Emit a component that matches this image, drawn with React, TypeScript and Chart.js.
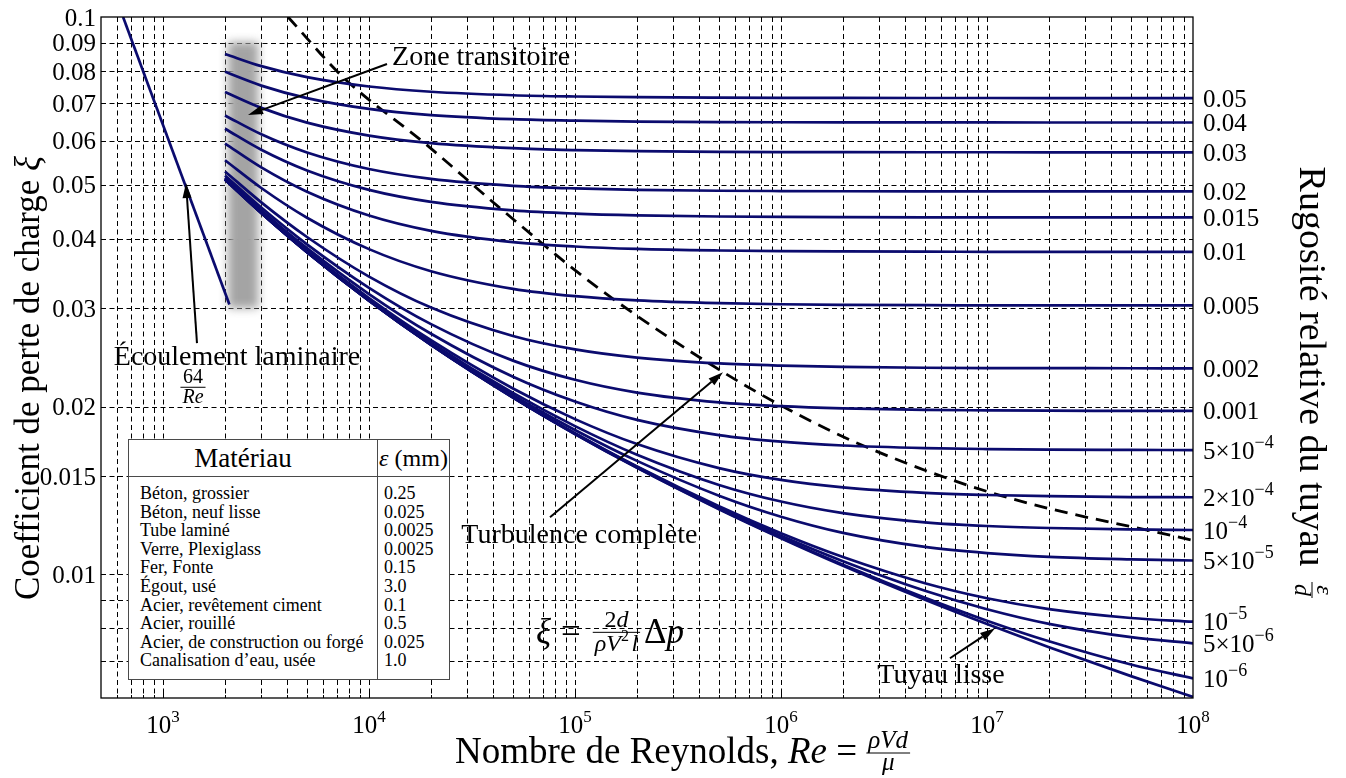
import React, { useEffect, useRef } from 'react';
import { Chart, registerables } from 'chart.js';

Chart.register(...registerables);

const W = 1346;
const H = 778;
const SERIF = '"Liberation Serif", "Times New Roman", serif';
const NAVY = '#0b0b6e';

// ---------------- data ----------------
const reynolds = [2000, 3000, 5000, 1e4, 2e4, 5e4, 1e5, 2e5, 5e5, 1e6, 2e6, 5e6, 1e7, 2e7, 5e7, 1e8];

const xi_0_05 = [0.08584, 0.08162, 0.07799, 0.07504, 0.07344, 0.07238, 0.072, 0.07179, 0.07166, 0.0716, 0.07158, 0.07156, 0.07156, 0.07155, 0.07155, 0.07155];
const xi_0_04 = [0.07972, 0.07532, 0.07152, 0.0684, 0.06669, 0.06556, 0.06515, 0.06493, 0.06479, 0.06474, 0.06471, 0.06469, 0.06468, 0.06467, 0.06467, 0.06467];
const xi_0_03 = [0.07334, 0.0687, 0.06464, 0.06127, 0.0594, 0.05816, 0.0577, 0.05746, 0.0573, 0.05724, 0.05721, 0.05719, 0.05719, 0.05718, 0.05718, 0.05718];
const xi_0_02 = [0.06658, 0.06159, 0.05714, 0.05336, 0.05123, 0.04979, 0.04926, 0.04897, 0.04878, 0.04872, 0.04868, 0.04866, 0.04865, 0.04865, 0.04864, 0.04864];
const xi_0_015 = [0.06302, 0.05778, 0.05304, 0.04895, 0.04659, 0.04499, 0.04439, 0.04407, 0.04386, 0.04378, 0.04374, 0.04371, 0.0437, 0.0437, 0.04369, 0.04369];
const xi_0_01 = [0.05928, 0.05372, 0.04859, 0.04404, 0.04134, 0.03946, 0.03875, 0.03836, 0.03811, 0.03801, 0.03796, 0.03792, 0.03791, 0.0379, 0.0379, 0.0379];
const xi_0_005 = [0.05533, 0.04934, 0.04364, 0.03833, 0.03499, 0.03253, 0.03156, 0.03102, 0.03066, 0.03052, 0.03045, 0.0304, 0.03039, 0.03038, 0.03037, 0.03037];
const xi_0_002 = [0.05283, 0.0465, 0.0403, 0.03422, 0.03011, 0.02677, 0.02533, 0.02449, 0.0239, 0.02368, 0.02356, 0.02348, 0.02345, 0.02344, 0.02343, 0.02342];
const xi_0_001 = [0.05197, 0.04551, 0.0391, 0.03267, 0.02812, 0.02418, 0.02234, 0.02119, 0.02035, 0.02003, 0.01985, 0.01973, 0.01969, 0.01966, 0.01965, 0.01964];
const xi_5e_4 = [0.05153, 0.045, 0.03848, 0.03184, 0.02702, 0.02262, 0.02042, 0.01893, 0.01778, 0.0173, 0.01703, 0.01685, 0.01678, 0.01674, 0.01672, 0.01671];
const xi_2e_4 = [0.05127, 0.0447, 0.0381, 0.03132, 0.02631, 0.02155, 0.01899, 0.01713, 0.01551, 0.01477, 0.01432, 0.014, 0.01388, 0.01381, 0.01376, 0.01375];
const xi_1e_4 = [0.05118, 0.04459, 0.03797, 0.03115, 0.02606, 0.02116, 0.01845, 0.01639, 0.01447, 0.01351, 0.01288, 0.0124, 0.01221, 0.01211, 0.01204, 0.01201];
const xi_5e_5 = [0.05114, 0.04454, 0.03791, 0.03106, 0.02594, 0.02096, 0.01816, 0.01598, 0.01384, 0.01269, 0.01187, 0.0112, 0.01092, 0.01075, 0.01064, 0.01059];
const xi_1e_5 = [0.0511, 0.0445, 0.03786, 0.03099, 0.02584, 0.0208, 0.01792, 0.01562, 0.01325, 0.01185, 0.01074, 0.009638, 0.009059, 0.008662, 0.008351, 0.008224];
const xi_5e_6 = [0.05109, 0.04449, 0.03785, 0.03098, 0.02583, 0.02078, 0.01789, 0.01558, 0.01317, 0.01173, 0.01056, 0.009344, 0.008657, 0.00815, 0.007713, 0.007519];
const xi_1e_6 = [0.05109, 0.04449, 0.03784, 0.03097, 0.02581, 0.02076, 0.01786, 0.01554, 0.01311, 0.01163, 0.0104, 0.009074, 0.008258, 0.007583, 0.006889, 0.006506];
const xi_smooth = [0.05109, 0.04449, 0.03784, 0.03097, 0.02581, 0.02076, 0.01786, 0.01553, 0.01309, 0.01161, 0.01036, 0.009001, 0.008142, 0.007401, 0.006567, 0.006026];

const roughnessSeries = [xi_0_05, xi_0_04, xi_0_03, xi_0_02, xi_0_015, xi_0_01, xi_0_005, xi_0_002, xi_0_001, xi_5e_4, xi_2e_4, xi_1e_4, xi_5e_5, xi_1e_5, xi_5e_6, xi_1e_6];
const roughnessLabels = ['0.05', '0.04', '0.03', '0.02', '0.015', '0.01', '0.005', '0.002', '0.001', '5×10^−4', '2×10^−4', '10^−4', '5×10^−5', '10^−5', '5×10^−6', '10^−6'];

const laminarRe = [640, 2100];
const laminarXi = [0.1, 0.03048];

const completeTurbRe = [4045, 7477, 19120, 43230, 127900, 505700, 1105000, 2615000, 11560000, 1e8];
const completeTurbXi = [0.1, 0.07801, 0.0589, 0.04541, 0.03276, 0.02324, 0.0197, 0.0169, 0.01386, 0.01151];

const transitionBandRe = [2000, 3000];
const transitionBandXi = [0.0298, 0.0909];

const xDecades = [100, 1e3, 1e4, 1e5, 1e6, 1e7, 1e8];
const xGridMantissas = [1, 2, 3, 4, 5, 6, 7, 8, 9];
const xMajorExponents = [3, 4, 5, 6, 7, 8];
const yGridValues = [0.007, 0.008, 0.009, 0.01, 0.015, 0.02, 0.03, 0.04, 0.05, 0.06, 0.07, 0.08, 0.09];
const yTickLabels = ['0.01', '0.015', '0.02', '0.03', '0.04', '0.05', '0.06', '0.07', '0.08', '0.09', '0.1'];

const tableMaterials = ['Béton, grossier', 'Béton, neuf lisse', 'Tube laminé', 'Verre, Plexiglass', 'Fer, Fonte', 'Égout, usé', 'Acier, revêtement ciment', 'Acier, rouillé', 'Acier, de construction ou forgé', 'Canalisation d’eau, usée'];
const tableRoughnessMm = ['0.25', '0.025', '0.0025', '0.0025', '0.15', '3.0', '0.1', '0.5', '0.025', '1.0'];

const X_MIN = 500;
const X_MAX = 1e8;
const Y_MIN = 0.006;
const Y_MAX = 0.1;

// annotation anchors (data coordinates)
const annZoneText = { re: 12935, xi: 0.08442 };
const annZoneArrow = [[12225, 0.08234], [2586, 0.0667]];
const annLamText = { re: 2287, xi: 0.02453 };
const annLamFrac = { re: 1398, xi: 0.02166 };
const annLamArrow = [[1462, 0.02599], [1293, 0.05035]];
const annTurbText = { re: 105000, xi: 0.01175 };
const annTurbArrow = [[75620, 0.01266], [523000, 0.02305]];
const annSmoothText = { re: 5.98e6, xi: 0.00659 };
const annSmoothArrow = [[6.61e6, 0.00707], [1.094e7, 0.008]];
const annFormula = { re: 64680, xi: 0.00787 };

// ---------------- drawing helpers ----------------
type Run = { t: string; size: number; italic?: boolean; dy?: number };

function setFont(ctx: CanvasRenderingContext2D, size: number, italic?: boolean) {
  ctx.font = `${italic ? 'italic ' : ''}${size}px ${SERIF}`;
}

function measureRuns(ctx: CanvasRenderingContext2D, runs: Run[]) {
  let w = 0;
  for (const r of runs) {
    setFont(ctx, r.size, r.italic);
    w += ctx.measureText(r.t).width;
  }
  return w;
}

function drawRuns(ctx: CanvasRenderingContext2D, runs: Run[], x: number, y: number) {
  let cx = x;
  for (const r of runs) {
    setFont(ctx, r.size, r.italic);
    ctx.fillText(r.t, cx, y + (r.dy || 0));
    cx += ctx.measureText(r.t).width;
  }
  return cx - x;
}

function drawFraction(ctx: CanvasRenderingContext2D, num: Run[], den: Run[], x: number, barY: number, numDy: number, denDy: number) {
  const wn = measureRuns(ctx, num);
  const wd = measureRuns(ctx, den);
  const w = Math.max(wn, wd) + 4;
  drawRuns(ctx, num, x + (w - wn) / 2, barY + numDy);
  drawRuns(ctx, den, x + (w - wd) / 2, barY + denDy);
  ctx.save();
  ctx.lineWidth = 1;
  ctx.beginPath();
  ctx.moveTo(x, barY);
  ctx.lineTo(x + w, barY);
  ctx.stroke();
  ctx.restore();
  return w;
}

function sciRuns(label: string, size: number): Run[] {
  const parts = label.split('^');
  if (parts.length === 1) return [{ t: label, size }];
  return [{ t: parts[0], size }, { t: parts[1], size: Math.round(size * 0.7), dy: -Math.round(size * 0.42) }];
}

function arrow(ctx: CanvasRenderingContext2D, x0: number, y0: number, x1: number, y1: number) {
  const ang = Math.atan2(y1 - y0, x1 - x0);
  const L = 15;
  const hw = 4.5;
  const bx = x1 - L * Math.cos(ang);
  const by = y1 - L * Math.sin(ang);
  ctx.save();
  ctx.strokeStyle = '#000';
  ctx.fillStyle = '#000';
  ctx.lineWidth = 2;
  ctx.beginPath();
  ctx.moveTo(x0, y0);
  ctx.lineTo(bx, by);
  ctx.stroke();
  ctx.beginPath();
  ctx.moveTo(x1, y1);
  ctx.lineTo(bx - hw * Math.sin(ang), by + hw * Math.cos(ang));
  ctx.lineTo(bx + hw * Math.sin(ang), by - hw * Math.cos(ang));
  ctx.closePath();
  ctx.fill();
  ctx.restore();
}

const moodyPlugin = {
  id: 'moody',
  beforeDatasetsDraw(chart: any) {
    const { ctx, chartArea: a, scales } = chart;
    const xs = scales.x;
    const ys = scales.y;
    ctx.save();
    ctx.strokeStyle = '#000';
    ctx.lineWidth = 1;
    ctx.setLineDash([5, 3.5]);
    for (const d of xDecades) {
      for (const m of xGridMantissas) {
        const v = d * m;
        if (v <= X_MIN || v >= X_MAX) continue;
        const px = Math.round(xs.getPixelForValue(v)) + 0.5;
        ctx.beginPath();
        ctx.moveTo(px, a.top);
        ctx.lineTo(px, a.bottom);
        ctx.stroke();
      }
    }
    for (const v of yGridValues) {
      const py = Math.round(ys.getPixelForValue(v)) + 0.5;
      ctx.beginPath();
      ctx.moveTo(a.left, py);
      ctx.lineTo(a.right, py);
      ctx.stroke();
    }
    ctx.setLineDash([]);
    // transition zone band
    const bx0 = xs.getPixelForValue(transitionBandRe[0]);
    const bx1 = xs.getPixelForValue(transitionBandRe[1]);
    const by0 = ys.getPixelForValue(transitionBandXi[1]);
    const by1 = ys.getPixelForValue(transitionBandXi[0]);
    ctx.filter = 'blur(5px)';
    ctx.fillStyle = '#a4a4a4';
    ctx.fillRect(bx0 + 3, by0 + 2, bx1 - bx0 - 6, by1 - by0 - 4);
    ctx.filter = 'none';
    ctx.restore();
  },
  afterDatasetsDraw(chart: any) {
    const { ctx, chartArea: a, scales } = chart;
    const xs = scales.x;
    const ys = scales.y;
    const P = (re: number, xi: number) => [xs.getPixelForValue(re), ys.getPixelForValue(xi)];
    ctx.save();
    ctx.strokeStyle = '#000';
    ctx.fillStyle = '#000';
    // inward ticks
    ctx.lineWidth = 1;
    for (const d of xDecades) {
      for (const m of xGridMantissas) {
        const v = d * m;
        if (v <= X_MIN || v >= X_MAX) continue;
        const px = Math.round(xs.getPixelForValue(v)) + 0.5;
        const len = m === 1 ? 5 : 3;
        ctx.beginPath();
        ctx.moveTo(px, a.bottom);
        ctx.lineTo(px, a.bottom - len);
        ctx.stroke();
      }
    }
    for (const v of yGridValues) {
      const py = Math.round(ys.getPixelForValue(v)) + 0.5;
      ctx.beginPath();
      ctx.moveTo(a.left, py);
      ctx.lineTo(a.left + 5, py);
      ctx.stroke();
    }
    // spines
    ctx.lineWidth = 1.3;
    ctx.strokeRect(a.left, a.top, a.right - a.left, a.bottom - a.top);

    ctx.textBaseline = 'alphabetic';
    // y tick labels
    ctx.textAlign = 'right';
    setFont(ctx, 25);
    for (const lab of yTickLabels) {
      const py = ys.getPixelForValue(parseFloat(lab));
      ctx.fillText(lab, a.left - 5, py + 8.5);
    }
    ctx.textAlign = 'left';
    // x tick labels
    for (const e of xMajorExponents) {
      const px = xs.getPixelForValue(Math.pow(10, e));
      const runs: Run[] = [{ t: '10', size: 25 }, { t: String(e), size: 17, dy: -11 }];
      const w = measureRuns(ctx, runs);
      drawRuns(ctx, runs, px - w / 2, a.bottom + 35);
    }
    // right curve labels
    roughnessSeries.forEach((s, i) => {
      const py = ys.getPixelForValue(s[s.length - 1]);
      drawRuns(ctx, sciRuns(roughnessLabels[i], 25), a.right + 10, py + 8.5);
    });

    // x title
    {
      const base = 763;
      let x = 455;
      x += drawRuns(ctx, [{ t: 'Nombre de Reynolds, ', size: 37 }, { t: 'Re', size: 37, italic: true }, { t: ' = ', size: 37 }], x, base);
      drawFraction(ctx, [{ t: 'ρVd', size: 25, italic: true }], [{ t: 'μ', size: 25, italic: true }], x, base - 10, -5, 17);
    }
    // left title
    {
      ctx.save();
      ctx.translate(28, 378);
      ctx.rotate(-Math.PI / 2);
      const runs: Run[] = [{ t: 'Coefficient de perte de charge ', size: 35 }, { t: 'ξ', size: 35, italic: true }];
      const w = measureRuns(ctx, runs);
      drawRuns(ctx, runs, -w / 2, 11);
      ctx.restore();
    }
    // right title
    {
      ctx.save();
      ctx.translate(1312, 381);
      ctx.rotate(Math.PI / 2);
      const runs: Run[] = [{ t: 'Rugosité relative du tuyau ', size: 38 }];
      setFont(ctx, 24, true);
      const wf = ctx.measureText('ε').width + 4;
      const w = measureRuns(ctx, runs) + wf + 6;
      const x0 = -w / 2;
      const x1 = x0 + drawRuns(ctx, runs, x0, 12) + 6;
      drawFraction(ctx, [{ t: 'ε', size: 24, italic: true }], [{ t: 'd', size: 24, italic: true }], x1, 0, -5, 17);
      ctx.restore();
    }

    // annotations
    const AF = 28;
    ctx.textBaseline = 'middle';
    {
      const [tx, ty] = P(annZoneText.re, annZoneText.xi);
      ctx.textAlign = 'left';
      setFont(ctx, AF);
      ctx.fillText('Zone transitoire', tx, ty);
      const [ax0, ay0] = P(annZoneArrow[0][0], annZoneArrow[0][1]);
      const [ax1, ay1] = P(annZoneArrow[1][0], annZoneArrow[1][1]);
      arrow(ctx, ax0, ay0, ax1, ay1);
    }
    {
      const [tx, ty] = P(annLamText.re, annLamText.xi);
      ctx.textAlign = 'center';
      setFont(ctx, AF);
      ctx.fillText('Écoulement laminaire', tx, ty);
      const [fx, fy] = P(annLamFrac.re, annLamFrac.xi);
      ctx.textAlign = 'left';
      ctx.textBaseline = 'alphabetic';
      setFont(ctx, 20);
      const fw = Math.max(ctx.measureText('64').width, measureRuns(ctx, [{ t: 'Re', size: 20, italic: true }])) + 4;
      drawFraction(ctx, [{ t: '64', size: 20 }], [{ t: 'Re', size: 20, italic: true }], fx - fw / 2, fy, -4, 16);
      ctx.textBaseline = 'middle';
      const [ax0, ay0] = P(annLamArrow[0][0], annLamArrow[0][1]);
      const [ax1, ay1] = P(annLamArrow[1][0], annLamArrow[1][1]);
      arrow(ctx, ax0, ay0, ax1, ay1);
    }
    {
      const [tx, ty] = P(annTurbText.re, annTurbText.xi);
      ctx.textAlign = 'center';
      setFont(ctx, AF);
      ctx.fillText('Turbulence complète', tx, ty);
      const [ax0, ay0] = P(annTurbArrow[0][0], annTurbArrow[0][1]);
      const [ax1, ay1] = P(annTurbArrow[1][0], annTurbArrow[1][1]);
      arrow(ctx, ax0, ay0, ax1, ay1);
    }
    {
      const [tx, ty] = P(annSmoothText.re, annSmoothText.xi);
      ctx.textAlign = 'center';
      setFont(ctx, AF);
      ctx.fillText('Tuyau lisse', tx, ty);
      const [ax0, ay0] = P(annSmoothArrow[0][0], annSmoothArrow[0][1]);
      const [ax1, ay1] = P(annSmoothArrow[1][0], annSmoothArrow[1][1]);
      arrow(ctx, ax0, ay0, ax1, ay1);
    }
    {
      const [fx, fy] = P(annFormula.re, annFormula.xi);
      ctx.textAlign = 'left';
      ctx.textBaseline = 'alphabetic';
      const base = fy + 11;
      let x = fx;
      x += drawRuns(ctx, [{ t: 'ξ', size: 35, italic: true }], x, base);
      x += 10;
      x += drawRuns(ctx, [{ t: '=', size: 35 }], x, base);
      x += 12;
      x += drawFraction(
        ctx,
        [{ t: '2', size: 24 }, { t: 'd', size: 24, italic: true }],
        [{ t: 'ρV', size: 24, italic: true }, { t: '2', size: 16, dy: -10 }, { t: ' ', size: 10 }, { t: 'l', size: 24, italic: true }],
        x,
        base - 11,
        -5,
        19
      );
      x += 4;
      drawRuns(ctx, [{ t: 'Δ', size: 35 }, { t: 'p', size: 35, italic: true }], x, base);
    }
    ctx.restore();
  },
};

function MaterialTable() {
  const border = '1px solid #4a4a4a';
  return (
    <div
      style={{
        position: 'absolute',
        left: 128,
        top: 439,
        width: 322,
        height: 241,
        boxSizing: 'border-box',
        border,
        background: '#fff',
        fontFamily: SERIF,
        color: '#000',
      }}
    >
      <div style={{ position: 'absolute', left: 0, width: 248, top: 0, height: 36, lineHeight: '36px', textAlign: 'center', fontSize: 27, paddingRight: 20, boxSizing: 'border-box' }}>
        Matériau
      </div>
      <div style={{ position: 'absolute', left: 249, right: 0, top: 0, height: 36, lineHeight: '36px', textAlign: 'center', fontSize: 24, whiteSpace: 'nowrap' }}>
        <i>ε</i> (mm)
      </div>
      <div style={{ position: 'absolute', left: 0, right: 0, top: 36, height: 0, borderTop: border }} />
      <div style={{ position: 'absolute', left: 248, top: 0, bottom: 0, width: 0, borderLeft: border }} />
      <div style={{ position: 'absolute', left: 11, top: 44, fontSize: 18, lineHeight: '18.6px', whiteSpace: 'nowrap' }}>
        {tableMaterials.map((m, i) => (
          <div key={i}>{m}</div>
        ))}
      </div>
      <div style={{ position: 'absolute', left: 255, top: 44, fontSize: 18, lineHeight: '18.6px', whiteSpace: 'nowrap' }}>
        {tableRoughnessMm.map((v, i) => (
          <div key={i}>{v}</div>
        ))}
      </div>
    </div>
  );
}

export default function App() {
  const ref = useRef<HTMLCanvasElement>(null);
  useEffect(() => {
    const canvas = ref.current;
    if (!canvas) return;
    const curve = (vals: number[]) => ({
      data: reynolds.map((r, i) => ({ x: r, y: vals[i] })),
      borderColor: NAVY,
      borderWidth: 2.7,
      pointRadius: 0,
      fill: false,
      cubicInterpolationMode: 'monotone',
    });
    const datasets: any[] = [...roughnessSeries.map(curve), curve(xi_smooth)];
    datasets.push({
      data: laminarRe.map((r, i) => ({ x: r, y: laminarXi[i] })),
      borderColor: NAVY,
      borderWidth: 2.7,
      pointRadius: 0,
      fill: false,
      tension: 0,
    });
    datasets.push({
      data: completeTurbRe.map((r, i) => ({ x: r, y: completeTurbXi[i] })),
      borderColor: '#000',
      borderWidth: 2.8,
      borderDash: [13, 8],
      pointRadius: 0,
      fill: false,
      cubicInterpolationMode: 'monotone',
    });
    const chart = new Chart(canvas, {
      type: 'line',
      data: { datasets },
      options: {
        responsive: false,
        maintainAspectRatio: false,
        animation: false,
        devicePixelRatio: 1,
        events: [],
        layout: { padding: { left: 101, top: 17, right: W - 1193, bottom: H - 698 } },
        scales: {
          x: { type: 'logarithmic', min: X_MIN, max: X_MAX, display: false },
          y: { type: 'logarithmic', min: Y_MIN, max: Y_MAX, display: false },
        },
        plugins: { legend: { display: false }, tooltip: { enabled: false } },
      } as any,
      plugins: [moodyPlugin as any],
    });
    return () => chart.destroy();
  }, []);
  return (
    <div style={{ position: 'absolute', left: 0, top: 0, width: W, height: H, background: '#fff', overflow: 'hidden' }}>
      <canvas ref={ref} width={W} height={H} style={{ display: 'block', width: W, height: H }} />
      <MaterialTable />
    </div>
  );
}
